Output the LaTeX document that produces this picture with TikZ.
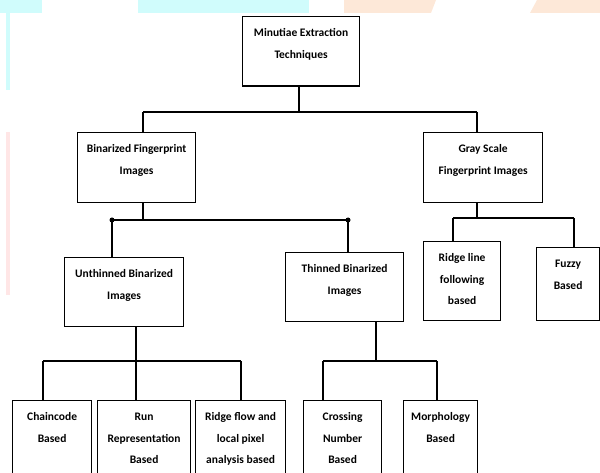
\documentclass[tikz,border=0pt]{standalone}
\usepackage{fontspec}
\setmainfont{Carlito}
\definecolor{wmcyan}{RGB}{208,252,252}
\definecolor{wmpeach}{RGB}{253,232,216}
\definecolor{wmpink}{RGB}{255,230,230}
\newcommand\boxtext[3]{\parbox[c][#2][t]{#1}{\centering\vspace*{11.5pt}\rule{0pt}{8.5pt}#3}}
\begin{document}
\begin{tikzpicture}[x=1pt,y=-1pt,
  box/.style={draw, line width=1.2pt, fill=white, inner sep=0pt, anchor=north west, rectangle,
    font=\fontsize{11.5}{21.5}\selectfont\bfseries},
  link/.style={line width=1.2pt},
  dotmark/.style={circle, fill=black, inner sep=0pt, minimum size=5pt}]
\useasboundingbox (0,0) rectangle (600,473);
\clip (0,0) rectangle (600,473);
% faint background watermark
\fill[wmcyan] (0,0) rectangle (42,13);
\fill[wmcyan] (6,13) rectangle (10,90);
\fill[wmcyan] (138,0) rectangle (309,13);
\fill[wmpeach] (344,0) -- (436,0) -- (431,13) -- (344,13) -- cycle;
\fill[wmpeach] (537,0) -- (600,0) -- (600,13) -- (530,13) -- cycle;
\fill[wmpink] (6,132) rectangle (10,295);
% boxes
\node[box] (top) at (242,16) {\boxtext{117pt}{69pt}{Minutiae Extraction\\Techniques}};
\node[box] (bin) at (77,132) {\boxtext{118pt}{70pt}{Binarized Fingerprint\\Images}};
\node[box] (gray) at (423,132) {\boxtext{119pt}{70pt}{Gray Scale\\Fingerprint Images}};
\node[box] (unth) at (64,257) {\boxtext{119pt}{69pt}{Unthinned Binarized\\Images}};
\node[box] (thin) at (285,252) {\boxtext{118pt}{69pt}{Thinned Binarized\\Images}};
\node[box] (ridge) at (423,241) {\boxtext{77pt}{79pt}{Ridge line\\following\\based}};
\node[box] (fuzzy) at (536,247) {\boxtext{63pt}{73pt}{Fuzzy\\Based}};
\node[box] (chain) at (12,400) {\boxtext{79pt}{90pt}{Chaincode\\Based}};
\node[box] (run) at (97,400) {\boxtext{93pt}{90pt}{Run\\Representation\\Based}};
\node[box] (rflow) at (195,400) {\boxtext{90pt}{90pt}{Ridge flow and\\local pixel\\analysis based}};
\node[box] (cross) at (303,400) {\boxtext{78pt}{90pt}{Crossing\\Number\\Based}};
\node[box] (morph) at (403,400) {\boxtext{74pt}{90pt}{Morphology\\Based}};
\draw[line width=2.2pt] (top.south west) -- (top.south east);
% junction coordinates
\coordinate (j1) at (299,112);
\coordinate (j1l) at (143,112);
\coordinate (j1r) at (477,112);
\coordinate (j2) at (143,220);
\coordinate (j2l) at (112,220);
\coordinate (j2r) at (348,220);
\coordinate (j3) at (477,218);
\coordinate (j3l) at (453,218);
\coordinate (j3r) at (574,218);
\coordinate (j4) at (136,361);
\coordinate (j4l) at (43,361);
\coordinate (j4r) at (241,361);
\coordinate (j5) at (376,361);
\coordinate (j5l) at (323,361);
\coordinate (j5r) at (437,361);
% connectors
\draw[link] (top.south -| j1) -- (j1);
\draw[link] (j1l) -- (j1r);
\draw[link] (j1l) -- (j1l |- bin.north);
\draw[link] (j1r) -- (j1r |- gray.north);
\draw[link] (bin.south -| j2) -- (j2);
\draw[link] (j2l) -- (j2r);
\draw[link] (j2l) -- (j2l |- unth.north);
\draw[link] (j2r) -- (j2r |- thin.north);
\node[dotmark] (d1) at (j2l) {};
\node[dotmark] (d2) at (j2r) {};
\draw[link] (gray.south -| j3) -- (j3);
\draw[link] (j3l) -- (j3r);
\draw[link] (j3l) -- (j3l |- ridge.north);
\draw[link] (j3r) -- (j3r |- fuzzy.north);
\draw[link] (unth.south -| j4) -- (j4);
\draw[link] (j4l) -- (j4r);
\draw[link] (j4l) -- (j4l |- chain.north);
\draw[link] (j4) -- (j4 |- run.north);
\draw[link] (j4r) -- (j4r |- rflow.north);
\draw[link] (thin.south -| j5) -- (j5);
\draw[link] (j5l) -- (j5r);
\draw[link] (j5l) -- (j5l |- cross.north);
\draw[link] (j5r) -- (j5r |- morph.north);
\end{tikzpicture}
\end{document}
